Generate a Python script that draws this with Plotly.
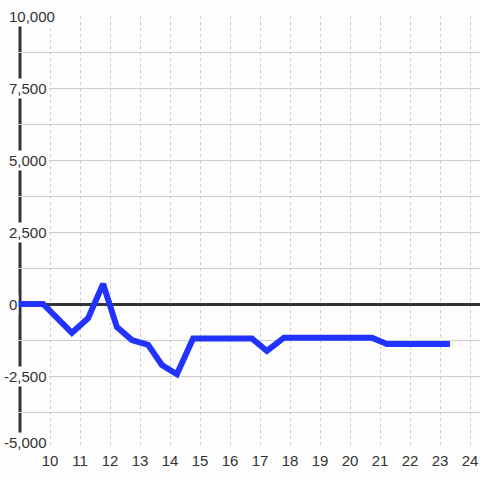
import plotly.graph_objects as go

# ---- data ----
hours = [8.9, 9.77, 10.73, 11.27, 11.77, 12.23, 12.73, 13.27, 13.73, 14.23,
         14.77, 16.73, 17.23, 17.8, 20.73, 21.23, 23.33]
values = [0, 0, -1000, -490, 700, -800, -1250, -1420, -2120, -2440,
          -1200, -1200, -1630, -1170, -1170, -1390, -1390]
x_ticks = list(range(10, 25))
y_ticks = [10000, 7500, 5000, 2500, 0, -2500, -5000]
y_tick_labels = ["10,000", "7,500", "5,000", "2,500", "0", "-2,500", "-5,000"]

BG = "#fcfdfc"
TXT = "#333333"
FONT = "Liberation Sans, Arial, sans-serif"

fig = go.Figure()
fig.add_trace(go.Scatter(
    x=hours, y=values, mode="lines",
    line=dict(color="#2233ff", width=6),
    hoverinfo="skip", showlegend=False,
))

# vertical y-axis line at x = 9
fig.add_shape(type="line", xref="x", yref="y", x0=9, x1=9, y0=-5000, y1=10000,
              line=dict(color=TXT, width=3), layer="below")

# y tick labels (left aligned, minus sign hanging left), with background
y_min = min(y_ticks)
for v, lab in zip(y_ticks, y_tick_labels):
    neg = lab.startswith("-")
    fig.add_annotation(
        xref="paper", yref="y", x=0, y=v, text=lab, showarrow=False,
        xanchor="left", yanchor="middle",
        xshift=(-15.5 if neg else -10.5),
        yshift=(6 if v == y_min else 0),
        font=dict(family=FONT, size=15, color=TXT),
        bgcolor=BG, borderpad=1,
    )

fig.update_layout(
    width=480, height=480,
    margin=dict(l=17, r=0, t=16, b=32, pad=0),
    paper_bgcolor=BG, plot_bgcolor=BG,
    font=dict(family=FONT, size=15, color=TXT),
    xaxis=dict(
        range=[8.9, 24.3333], tickvals=x_ticks, ticktext=[str(t) for t in x_ticks],
        showgrid=True, gridcolor="#cccccc", gridwidth=1, griddash="3px,3px",
        zeroline=False, showline=False, ticks="",
        tickfont=dict(family=FONT, size=15, color=TXT),
        ticklabelstandoff=2,
        fixedrange=True,
    ),
    yaxis=dict(
        range=[-5000, 10000], dtick=1250, tick0=0,
        showgrid=True, gridcolor="#cccccc", gridwidth=1,
        zeroline=True, zerolinecolor=TXT, zerolinewidth=3,
        showticklabels=False, ticks="", showline=False,
        fixedrange=True,
    ),
)

fig.write_html("out.html", config={"displayModeBar": False})

# remove the default body margin so the figure sits at the page origin
with open("out.html", "r", encoding="utf-8") as f:
    html = f.read()
html = html.replace("<body>", '<body style="margin:0;padding:0;overflow:hidden;">', 1)
with open("out.html", "w", encoding="utf-8") as f:
    f.write(html)
